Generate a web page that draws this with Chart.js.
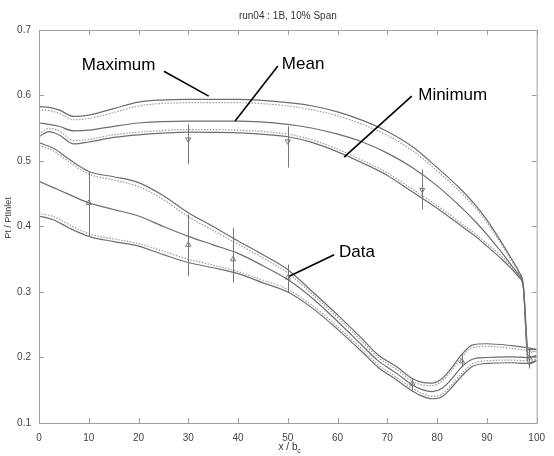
<!DOCTYPE html>
<html>
<head>
<meta charset="utf-8">
<script src="https://cdn.jsdelivr.net/npm/chart.js@4.4.0/dist/chart.umd.min.js"></script>
<style>
html, body { margin: 0; padding: 0; background: #fff; }
</style>
</head>
<body>
<canvas id="chart" width="554" height="456"></canvas>
<script>
// values
const xTicks = [0, 10, 20, 30, 40, 50, 60, 70, 80, 90, 100];
const yTicks = [0.1, 0.2, 0.3, 0.4, 0.5, 0.6, 0.7];

// upper family: maximum / mean / minimum
const upperX = [0, 2, 4, 7, 10, 15, 20, 30, 40, 50, 55, 60, 65, 70, 75, 80, 85, 88, 90, 93, 95, 96.5, 97.3, 98.3, 100];
const maxVals = [0.583, 0.582, 0.578, 0.568, 0.570, 0.580, 0.590, 0.594, 0.594, 0.589, 0.584, 0.575, 0.562, 0.545, 0.522, 0.490, 0.455, 0.430, 0.410, 0.375, 0.350, 0.330, 0.312, 0.212, 0.213];
const maxDot = [0.578, 0.577, 0.573, 0.563, 0.565, 0.574, 0.584, 0.589, 0.589, 0.584, 0.578, 0.569, 0.556, 0.539, 0.516, 0.485, 0.450, 0.426, 0.406, 0.372, 0.347, 0.328, 0.310, 0.208, 0.210];
const meanVals = [0.558, 0.556, 0.553, 0.546, 0.547, 0.553, 0.558, 0.561, 0.561, 0.556, 0.550, 0.541, 0.529, 0.512, 0.490, 0.462, 0.428, 0.405, 0.388, 0.360, 0.340, 0.325, 0.310, 0.200, 0.203];
const minVals = [0.537, 0.545, 0.540, 0.526, 0.529, 0.536, 0.540, 0.544, 0.543, 0.537, 0.528, 0.514, 0.497, 0.478, 0.453, 0.428, 0.400, 0.383, 0.370, 0.350, 0.335, 0.322, 0.308, 0.190, 0.195];
const minDot = [0.541, 0.550, 0.546, 0.531, 0.533, 0.540, 0.544, 0.548, 0.547, 0.541, 0.532, 0.518, 0.501, 0.482, 0.457, 0.432, 0.404, 0.387, 0.374, 0.354, 0.338, 0.325, 0.310, 0.193, 0.197];

// lower family
const lowerX = [0, 3, 6, 10, 15, 20, 25, 30, 35, 40, 45, 50, 55, 60, 65, 68, 72, 75, 77, 79, 81, 83, 85, 87, 90, 95, 98, 100];
const low1 = [0.528, 0.519, 0.503, 0.484, 0.476, 0.467, 0.447, 0.421, 0.400, 0.378, 0.357, 0.334, 0.300, 0.265, 0.228, 0.205, 0.185, 0.168, 0.162, 0.161, 0.168, 0.185, 0.205, 0.219, 0.221, 0.218, 0.215, 0.212];
const low1Dot = [0.524, 0.515, 0.499, 0.480, 0.471, 0.461, 0.441, 0.415, 0.394, 0.373, 0.352, 0.329, 0.296, 0.261, 0.224, 0.201, 0.181, 0.164, 0.158, 0.157, 0.164, 0.181, 0.201, 0.215, 0.217, 0.214, 0.211, 0.209];
const low2 = [0.469, 0.459, 0.449, 0.436, 0.426, 0.416, 0.400, 0.385, 0.372, 0.359, 0.340, 0.319, 0.290, 0.255, 0.218, 0.196, 0.175, 0.158, 0.151, 0.148, 0.153, 0.168, 0.186, 0.197, 0.200, 0.201, 0.200, 0.202];
const low3 = [0.416, 0.410, 0.398, 0.385, 0.377, 0.370, 0.357, 0.345, 0.337, 0.328, 0.314, 0.300, 0.275, 0.243, 0.208, 0.186, 0.165, 0.149, 0.141, 0.137, 0.140, 0.155, 0.172, 0.186, 0.191, 0.192, 0.191, 0.195];
const low3Dot = [0.420, 0.415, 0.403, 0.389, 0.381, 0.374, 0.362, 0.350, 0.341, 0.331, 0.318, 0.304, 0.279, 0.247, 0.212, 0.190, 0.169, 0.153, 0.145, 0.141, 0.144, 0.159, 0.176, 0.190, 0.195, 0.196, 0.195, 0.198];

// measured data with error bars
const errX = [30, 50, 77, 10, 30, 39, 50, 75, 85, 98.5];
const errMean = [0.533, 0.530, 0.456, 0.436, 0.372, 0.350, 0.322, 0.160, 0.194, 0.200];
const errLow = [0.495, 0.490, 0.426, 0.385, 0.324, 0.314, 0.299, 0.149, 0.185, 0.183];
const errHigh = [0.556, 0.553, 0.487, 0.484, 0.418, 0.398, 0.342, 0.169, 0.205, 0.212];
const errRot = [180, 180, 180, 0, 0, 0, 0, 0, 0, 0];

// callout labels (data coordinates)
const callouts = [
    { text: 'Maximum', tx: 8.6, ty: 0.646, x1: 25.1, y1: 0.637, x2: 34.1, y2: 0.599 },
    { text: 'Mean', tx: 48.8, ty: 0.647, x1: 48.0, y1: 0.645, x2: 39.4, y2: 0.561 },
    { text: 'Minimum', tx: 76.2, ty: 0.601, x1: 74.9, y1: 0.599, x2: 61.3, y2: 0.506 },
    { text: 'Data', tx: 60.3, ty: 0.361, x1: 59.3, y1: 0.357, x2: 50.3, y2: 0.324 }
];

const FONT = '"Liberation Sans", Arial, sans-serif';

function pts(xs, ys) {
    return xs.map((x, i) => ({ x: x, y: ys[i] }));
}

function solid(xs, ys) {
    return {
        data: pts(xs, ys), borderColor: '#6e6e6e', borderWidth: 1.2,
        pointRadius: 0, fill: false, cubicInterpolationMode: 'monotone'
    };
}

function dotted(xs, ys) {
    return {
        data: pts(xs, ys), borderColor: '#9a9a9a', borderWidth: 1.2, borderDash: [1.5, 1.5],
        pointRadius: 0, fill: false, cubicInterpolationMode: 'monotone'
    };
}

const framePlugin = {
    id: 'frame',
    afterDatasetsDraw(chart) {
        const ctx = chart.ctx;
        const xs = chart.scales.x, ys = chart.scales.y;
        ctx.save();
        // error bars
        ctx.strokeStyle = '#777';
        ctx.lineWidth = 1;
        errX.forEach((x, i) => {
            const px = Math.round(xs.getPixelForValue(x)) + 0.5;
            ctx.beginPath();
            ctx.moveTo(px, ys.getPixelForValue(errLow[i]));
            ctx.lineTo(px, ys.getPixelForValue(errHigh[i]));
            ctx.stroke();
        });
        ctx.restore();
    },
    afterDraw(chart) {
        const ctx = chart.ctx;
        const a = chart.chartArea;
        const xs = chart.scales.x, ys = chart.scales.y;
        ctx.save();
        // box and inward ticks
        ctx.strokeStyle = '#a0a0a0';
        ctx.lineWidth = 1;
        ctx.strokeRect(a.left + 0.5, a.top + 0.5, a.right - a.left, a.bottom - a.top);
        ctx.beginPath();
        xTicks.forEach(v => {
            const px = Math.round(xs.getPixelForValue(v)) + 0.5;
            ctx.moveTo(px, a.bottom); ctx.lineTo(px, a.bottom - 5);
            ctx.moveTo(px, a.top); ctx.lineTo(px, a.top + 5);
        });
        yTicks.forEach(v => {
            const py = Math.round(ys.getPixelForValue(v)) + 0.5;
            ctx.moveTo(a.left, py); ctx.lineTo(a.left + 5, py);
            ctx.moveTo(a.right, py); ctx.lineTo(a.right - 5, py);
        });
        ctx.stroke();

        // title
        ctx.fillStyle = '#333';
        ctx.font = '10px ' + FONT;
        ctx.textAlign = 'center';
        ctx.textBaseline = 'middle';
        ctx.fillText('run04 : 1B, 10% Span', (a.left + a.right) / 2, 16);

        // x axis title with subscript
        ctx.font = '10px ' + FONT;
        ctx.fillText('x / b', 288, 447);
        ctx.font = '7px ' + FONT;
        ctx.fillText('c', 299, 451);

        // y axis title
        ctx.save();
        ctx.translate(9, 218);
        ctx.rotate(-Math.PI / 2);
        ctx.font = '9px ' + FONT;
        ctx.fillText('Pt / PtInlet', 0, 0);
        ctx.restore();

        // callouts
        ctx.fillStyle = '#000';
        ctx.strokeStyle = '#000';
        ctx.lineWidth = 1.6;
        ctx.font = '17px ' + FONT;
        ctx.textAlign = 'left';
        callouts.forEach(c => {
            ctx.fillText(c.text, xs.getPixelForValue(c.tx), ys.getPixelForValue(c.ty));
            ctx.beginPath();
            ctx.moveTo(xs.getPixelForValue(c.x1), ys.getPixelForValue(c.y1));
            ctx.lineTo(xs.getPixelForValue(c.x2), ys.getPixelForValue(c.y2));
            ctx.stroke();
        });
        ctx.restore();
    }
};

const ctx = document.getElementById('chart').getContext('2d');
const chart = new Chart(ctx, {
    type: 'line',
    data: {
        datasets: [
            solid(upperX, maxVals),
            dotted(upperX, maxDot),
            solid(upperX, meanVals),
            solid(upperX, minVals),
            dotted(upperX, minDot),
            solid(lowerX, low1),
            dotted(lowerX, low1Dot),
            solid(lowerX, low2),
            solid(lowerX, low3),
            dotted(lowerX, low3Dot),
            {
                type: 'scatter',
                data: pts(errX, errMean),
                pointStyle: 'triangle',
                pointRadius: 3,
                pointRotation: errRot,
                borderColor: '#777',
                backgroundColor: 'rgba(0,0,0,0)',
                borderWidth: 1,
                showLine: false
            }
        ]
    },
    options: {
        responsive: false,
        animation: false,
        devicePixelRatio: 1,
        layout: { padding: { top: 30, right: 13, left: 0, bottom: 0 } },
        plugins: { legend: { display: false }, tooltip: { enabled: false }, title: { display: false } },
        scales: {
            x: {
                type: 'linear', min: 0, max: 100,
                afterBuildTicks: s => { s.ticks = xTicks.map(v => ({ value: v })); },
                afterFit: s => { s.height = 33; },
                grid: { display: false, drawTicks: false },
                border: { display: false },
                ticks: { color: '#444', font: { size: 10, family: FONT }, padding: 9, maxRotation: 0, autoSkip: false, callback: v => String(v) }
            },
            y: {
                type: 'linear', min: 0.1, max: 0.7,
                afterBuildTicks: s => { s.ticks = yTicks.map(v => ({ value: v })); },
                afterFit: s => { s.width = 39; },
                grid: { display: false, drawTicks: false },
                border: { display: false },
                ticks: { color: '#444', font: { size: 10, family: FONT }, padding: 8, autoSkip: false, callback: v => v.toFixed(1) }
            }
        }
    },
    plugins: [framePlugin]
});
</script>
</body>
</html>
